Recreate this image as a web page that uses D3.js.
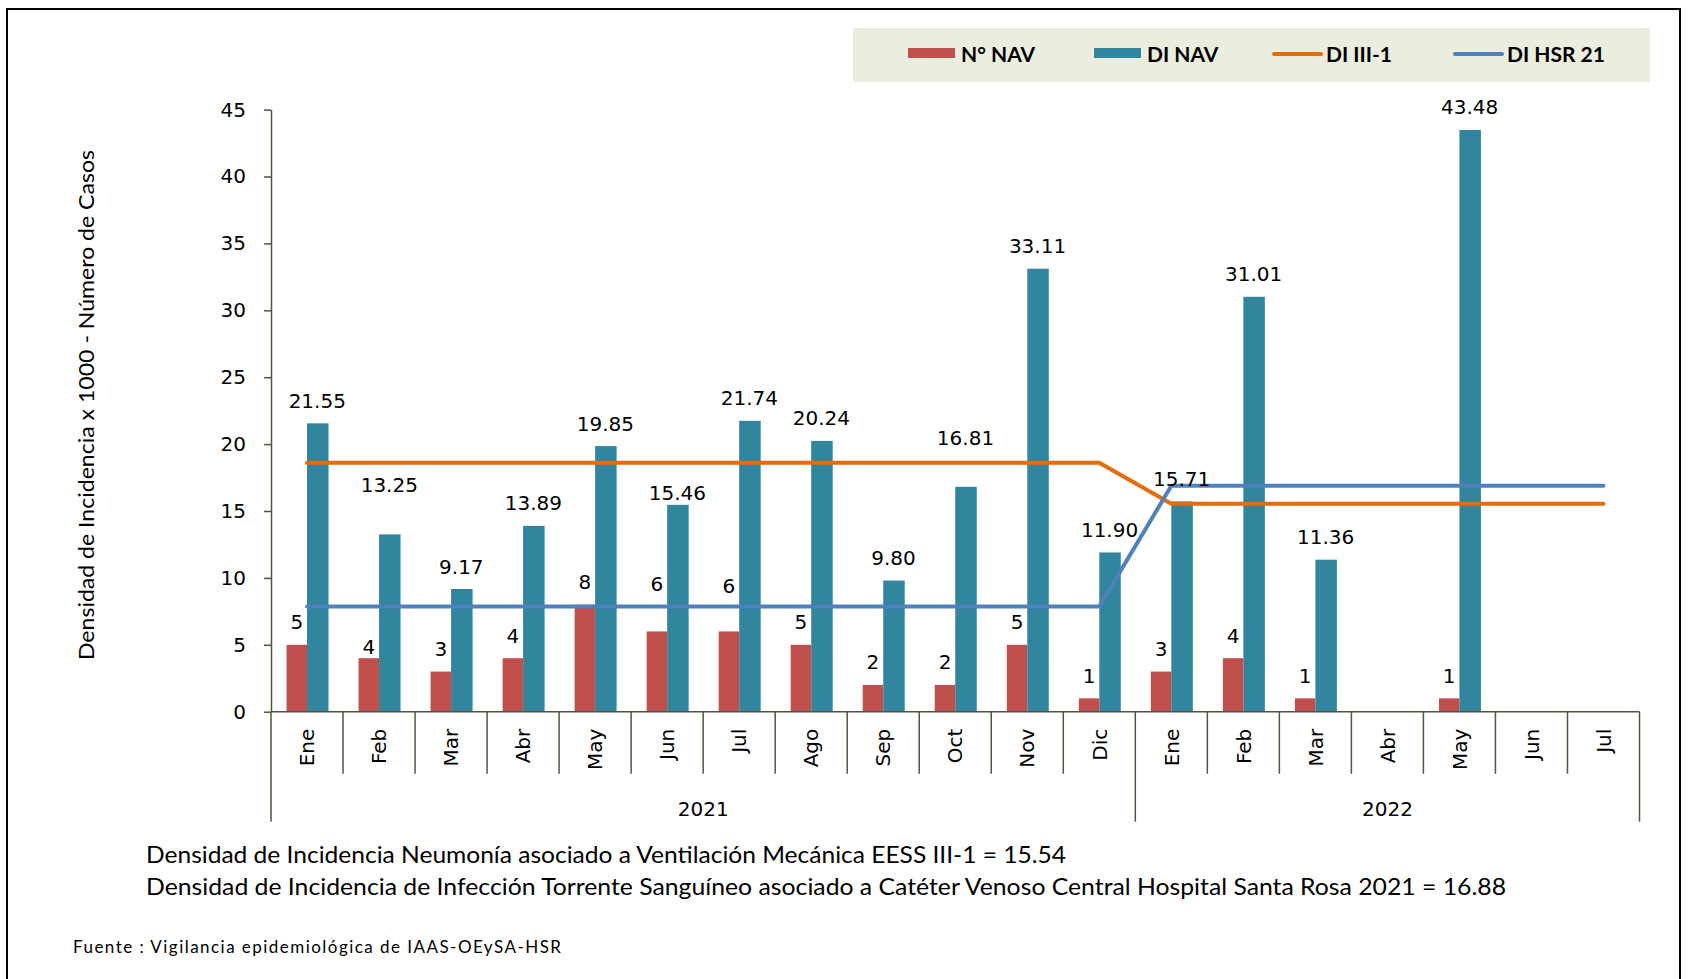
<!DOCTYPE html>
<html>
<head>
<meta charset="utf-8">
<script src="https://cdn.jsdelivr.net/npm/d3@7"></script>
<style>
  body { margin: 0; background: #fff; }
  svg { display: block; }
</style>
</head>
<body>
<div id="chart"></div>
<script>
// Chart data
var months = ["Ene", "Feb", "Mar", "Abr", "May", "Jun", "Jul", "Ago", "Sep", "Oct", "Nov", "Dic",
              "Ene", "Feb", "Mar", "Abr", "May", "Jun", "Jul"];
var yearLabels = ["2021", "2022"];
var yearSpans = [12, 7];

var nNav = [5, 4, 3, 4, 8, 6, 6, 5, 2, 2, 5, 1, 3, 4, 1, null, 1, null, null];
var diNav = [21.55, 13.25, 9.17, 13.89, 19.85, 15.46, 21.74, 20.24, 9.80, 16.81, 33.11, 11.90,
             15.71, 31.01, 11.36, null, 43.48, null, null];
var diIII1 = [18.6, 18.6, 18.6, 18.6, 18.6, 18.6, 18.6, 18.6, 18.6, 18.6, 18.6, 18.6,
              15.54, 15.54, 15.54, 15.54, 15.54, 15.54, 15.54];
var diHsr21 = [7.87, 7.87, 7.87, 7.87, 7.87, 7.87, 7.87, 7.87, 7.87, 7.87, 7.87, 7.87,
               16.88, 16.88, 16.88, 16.88, 16.88, 16.88, 16.88];
var yTicks = [0, 5, 10, 15, 20, 25, 30, 35, 40, 45];

var legendItems = [
    { name: "N° NAV", type: "bar", color: "#C0504D" },
    { name: "DI NAV", type: "bar", color: "#31859C" },
    { name: "DI III-1", type: "line", color: "#E46C0A" },
    { name: "DI HSR 21", type: "line", color: "#4F81BD" }
];

// Layout
var W = 1689, H = 979;
var plotLeft = 271, plotRight = 1639.5, plotTop = 109.6, plotBottom = 711.7;
var barW = 20.5;
var labelLift = 15.5;
// labels that were nudged by hand in the original
var diLift = { 1: 42, 5: 5, 9: 42 };
var nLift = { 1: 4, 5: 40, 6: 38 };
var axisColor = "#57533F";
var numFont = "'DejaVu Sans', Verdana, sans-serif";
var textFont = "Lato, 'Open Sans', sans-serif";

var svg = d3.select("#chart").append("svg")
    .attr("width", W)
    .attr("height", H);

svg.append("rect")
    .attr("x", 7).attr("y", 9)
    .attr("width", 1673).attr("height", 1000)
    .attr("fill", "none")
    .attr("stroke", "#000")
    .attr("stroke-width", 2);

var x = d3.scaleBand().domain(d3.range(months.length)).range([plotLeft, plotRight]).padding(0);
var y = d3.scaleLinear().domain([0, 45]).range([plotBottom, plotTop]);
function cx(i) { return x(i) + x.bandwidth() / 2; }

// Y axis
var yAxis = svg.append("g")
    .attr("transform", "translate(" + plotLeft + ",0)")
    .call(d3.axisLeft(y).tickValues(yTicks).tickSize(7).tickSizeOuter(0).tickPadding(18));
yAxis.select(".domain").attr("stroke", axisColor).attr("stroke-width", 1.5);
yAxis.selectAll(".tick line").attr("stroke", axisColor).attr("stroke-width", 1.5);
yAxis.selectAll(".tick text")
    .attr("font-family", numFont)
    .attr("font-size", 20)
    .attr("fill", "#000");

// Y title
svg.append("text")
    .attr("transform", "translate(86,405) rotate(-90)")
    .attr("text-anchor", "middle")
    .attr("dy", "0.35em")
    .attr("font-family", textFont)
    .attr("font-size", 22)
    .attr("textLength", 510)
    .attr("lengthAdjust", "spacingAndGlyphs")
    .attr("fill", "#000")
    .text("Densidad de Incidencia x 1000 - Número de Casos");

// Bars
svg.append("g").selectAll("rect")
    .data(nNav.map(function(v, i) { return { v: v, i: i }; }).filter(function(d) { return d.v != null; }))
    .enter().append("rect")
    .attr("x", function(d) { return cx(d.i) - barW; })
    .attr("y", function(d) { return y(d.v); })
    .attr("width", barW)
    .attr("height", function(d) { return y(0) - y(d.v); })
    .attr("fill", legendItems[0].color);

svg.append("g").selectAll("rect")
    .data(diNav.map(function(v, i) { return { v: v, i: i }; }).filter(function(d) { return d.v != null; }))
    .enter().append("rect")
    .attr("x", function(d) { return cx(d.i); })
    .attr("y", function(d) { return y(d.v); })
    .attr("width", barW + 1)
    .attr("height", function(d) { return y(0) - y(d.v); })
    .attr("fill", legendItems[1].color);

// Lines
var line = d3.line()
    .x(function(d, i) { return cx(i); })
    .y(function(d) { return y(d); });

[[diIII1, legendItems[2].color], [diHsr21, legendItems[3].color]].forEach(function(s) {
    svg.append("path")
        .datum(s[0])
        .attr("d", line)
        .attr("fill", "none")
        .attr("stroke", s[1])
        .attr("stroke-width", 4)
        .attr("stroke-linecap", "round")
        .attr("stroke-linejoin", "round");
});

// X axis, Excel style with category and year boundaries
var xg = svg.append("g");
xg.append("line")
    .attr("x1", plotLeft).attr("x2", plotRight)
    .attr("y1", plotBottom).attr("y2", plotBottom)
    .attr("stroke", axisColor).attr("stroke-width", 1.5);

var yearEdges = [0];
yearSpans.forEach(function(n) { yearEdges.push(yearEdges[yearEdges.length - 1] + n); });

d3.range(months.length + 1).forEach(function(i) {
    var xx = i < months.length ? x(i) : plotRight;
    var isYear = yearEdges.indexOf(i) >= 0;
    xg.append("line")
        .attr("x1", xx).attr("x2", xx)
        .attr("y1", plotBottom).attr("y2", plotBottom + (isYear ? 110 : 62))
        .attr("stroke", axisColor).attr("stroke-width", 1.5);
});

xg.selectAll(".month")
    .data(months)
    .enter().append("text")
    .attr("class", "month")
    .attr("transform", function(d, i) { return "translate(" + cx(i) + "," + (plotBottom + 17) + ") rotate(-90)"; })
    .attr("text-anchor", "end")
    .attr("dy", "0.36em")
    .attr("font-family", numFont)
    .attr("font-size", 20)
    .attr("fill", "#000")
    .text(function(d) { return d; });

xg.selectAll(".year")
    .data(yearLabels)
    .enter().append("text")
    .attr("class", "year")
    .attr("x", function(d, k) {
        var a = x(yearEdges[k]);
        var b = yearEdges[k + 1] < months.length ? x(yearEdges[k + 1]) : plotRight;
        return (a + b) / 2;
    })
    .attr("y", plotBottom + 104)
    .attr("text-anchor", "middle")
    .attr("font-family", numFont)
    .attr("font-size", 20)
    .attr("fill", "#000")
    .text(function(d) { return d; });

// Data labels
svg.append("g").selectAll("text")
    .data(diNav.map(function(v, i) { return { v: v, i: i }; }).filter(function(d) { return d.v != null; }))
    .enter().append("text")
    .attr("x", function(d) { return cx(d.i) + barW / 2; })
    .attr("y", function(d) { return y(d.v) - (diLift[d.i] != null ? diLift[d.i] : labelLift); })
    .attr("text-anchor", "middle")
    .attr("font-family", numFont)
    .attr("font-size", 20)
    .attr("fill", "#000")
    .text(function(d) { return d.v.toFixed(2); });

svg.append("g").selectAll("text")
    .data(nNav.map(function(v, i) { return { v: v, i: i }; }).filter(function(d) { return d.v != null; }))
    .enter().append("text")
    .attr("x", function(d) { return cx(d.i) - barW / 2; })
    .attr("y", function(d) { return y(d.v) - (nLift[d.i] != null ? nLift[d.i] : labelLift); })
    .attr("text-anchor", "middle")
    .attr("font-family", numFont)
    .attr("font-size", 20)
    .attr("fill", "#000")
    .text(function(d) { return d.v; });

// Legend
var lg = svg.append("g");
lg.append("rect")
    .attr("x", 853).attr("y", 28)
    .attr("width", 797).attr("height", 54)
    .attr("fill", "#EBEEDF");
var legendX = [908, 1094, 1272, 1453];
legendItems.forEach(function(d, k) {
    var g = lg.append("g").attr("transform", "translate(" + legendX[k] + ",0)");
    if (d.type === "bar") {
        g.append("rect").attr("x", 0).attr("y", 48).attr("width", 47).attr("height", 10).attr("fill", d.color);
    } else {
        g.append("line").attr("x1", 2).attr("x2", 49).attr("y1", 54).attr("y2", 54)
            .attr("stroke", d.color).attr("stroke-width", 4).attr("stroke-linecap", "round");
    }
    g.append("text")
        .attr("x", d.type === "bar" ? 53 : 54)
        .attr("y", 55)
        .attr("dy", "0.35em")
        .attr("font-family", textFont)
        .attr("font-weight", "bold")
        .attr("font-size", 21)
        .attr("fill", "#000")
        .text(d.name);
});

// Notes
var notes = [
    "Densidad de Incidencia Neumonía asociado a Ventilación Mecánica EESS III-1 = 15.54",
    "Densidad de Incidencia de Infección Torrente Sanguíneo asociado a Catéter Venoso Central Hospital Santa Rosa 2021 = 16.88"
];
var noteWidths = [920, 1360];
svg.selectAll(".note")
    .data(notes)
    .enter().append("text")
    .attr("class", "note")
    .attr("x", 146)
    .attr("y", function(d, i) { return 863 + i * 32; })
    .attr("font-family", textFont)
    .attr("font-size", 23)
    .attr("textLength", function(d, i) { return noteWidths[i]; })
    .attr("lengthAdjust", "spacingAndGlyphs")
    .attr("fill", "#000")
    .text(function(d) { return d; });

svg.append("text")
    .attr("x", 73)
    .attr("y", 953)
    .attr("font-family", textFont)
    .attr("font-size", 17)
    .attr("textLength", 488)
    .attr("lengthAdjust", "spacing")
    .attr("fill", "#000")
    .text("Fuente : Vigilancia epidemiológica de IAAS-OEySA-HSR");
</script>
</body>
</html>
